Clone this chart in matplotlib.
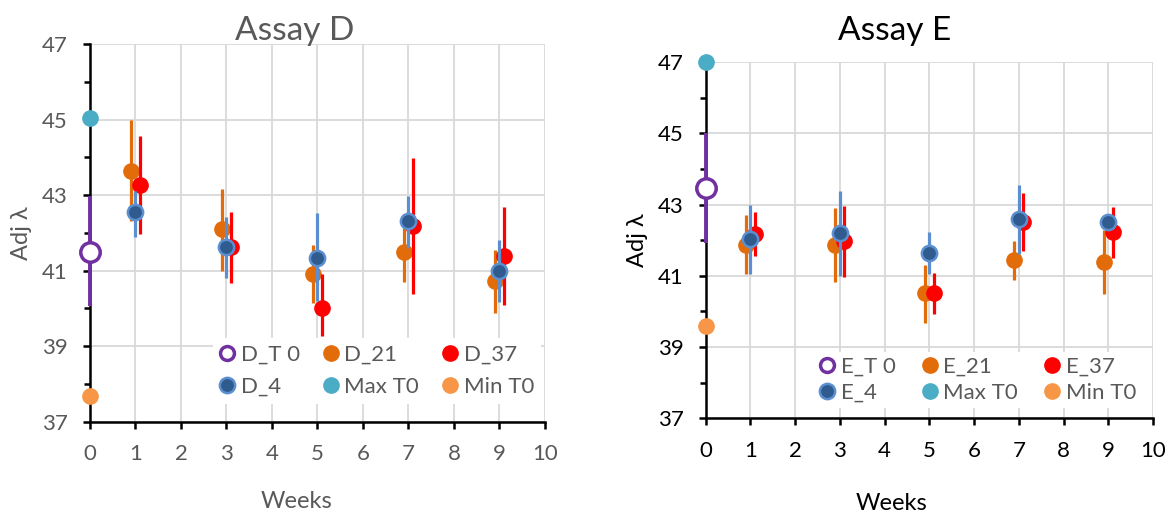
import matplotlib
matplotlib.use("Agg")
import matplotlib.pyplot as plt
from matplotlib.lines import Line2D
import numpy as np

plt.rcParams["font.family"] = ["Lato", "DejaVu Sans"]

# ---------------- data ----------------
weeks = [1, 3, 5, 7, 9]

# Assay D
d_t0, d_t0_lo, d_t0_hi = 41.50, 40.05, 42.97
d_max_t0 = 45.05
d_min_t0 = 37.68
d21    = [43.65, 42.09, 40.92, 41.49, 40.72]
d21_lo = [42.31, 40.99, 40.15, 40.69, 39.87]
d21_hi = [44.98, 43.17, 41.69, 42.44, 41.54]
d4     = [42.55, 41.63, 41.34, 42.31, 40.99]
d4_lo  = [41.90, 40.81, 40.19, 41.60, 40.17]
d4_hi  = [43.10, 42.42, 42.53, 42.97, 41.80]
d37    = [43.27, 41.62, 40.02, 42.18, 41.38]
d37_lo = [41.96, 40.68, 39.27, 40.37, 40.08]
d37_hi = [44.56, 42.56, 40.92, 43.98, 42.69]

# Assay E
e_t0, e_t0_lo, e_t0_hi = 43.47, 41.92, 45.02
e_max_t0 = 47.00
e_min_t0 = 39.59
e21    = [41.88, 41.88, 40.51, 41.45, 41.40]
e21_lo = [41.04, 40.83, 39.67, 40.89, 40.50]
e21_hi = [42.70, 42.91, 41.32, 41.98, 42.28]
e4     = [42.04, 42.21, 41.64, 42.59, 42.52]
e4_lo  = [41.04, 41.01, 41.04, 41.62, 42.28]
e4_hi  = [42.98, 43.39, 42.23, 43.55, 42.75]
e37    = [42.19, 41.98, 40.51, 42.52, 42.23]
e37_lo = [41.55, 40.97, 39.92, 41.70, 41.50]
e37_hi = [42.80, 42.96, 41.08, 43.33, 42.94]

# ---------------- style ----------------
C_T0   = "#7030A0"
C_21   = "#E36C0A"
C_37   = "#FF0000"
C_4F   = "#2F5B8E"   # D_4 / E_4 face
C_4E   = "#5B8FD0"   # D_4 / E_4 edge + bar
C_MAX  = "#4BACC6"
C_MIN  = "#F79646"
GRID   = "#D9D9D9"
GREY   = "#595959"

MS  = 11
ELW = 2.3
OFF = 0.1


def errbar(ax, x, y, lo, hi, color, z, lw=ELW, **mk):
    y = np.asarray(y)
    yerr = [y - np.asarray(lo), np.asarray(hi) - y]
    ax.errorbar(x, y, yerr=yerr, fmt="o", ecolor=color, elinewidth=lw,
                capsize=0, zorder=z, clip_on=False, **mk)


def panel(ax, tag, t0, t0_lo, t0_hi, mx, mn, s21, s21lo, s21hi,
          s4, s4lo, s4hi, s37, s37lo, s37hi, txt_col):
    w = np.array(weeks, dtype=float)
    errbar(ax, [0], [t0], [t0_lo], [t0_hi], C_T0, 3, lw=2.8,
           ms=14, mfc="white", mec=C_T0, mew=2.5)
    errbar(ax, w - OFF, s21, s21lo, s21hi, C_21, 4,
           ms=MS, mfc=C_21, mec=C_21)
    errbar(ax, w + OFF, s37, s37lo, s37hi, C_37, 5,
           ms=MS, mfc=C_37, mec=C_37)
    errbar(ax, w, s4, s4lo, s4hi, C_4E, 6,
           ms=MS, mfc=C_4F, mec=C_4E, mew=1.8)
    ax.plot([0], [mx], "o", ms=MS, color=C_MAX, zorder=7, clip_on=False)
    ax.plot([0], [mn], "o", ms=MS, color=C_MIN, zorder=7, clip_on=False)

    ax.set_xlim(0, 10)
    ax.set_ylim(37, 47)
    ax.set_xticks(range(0, 11))
    ax.set_yticks(range(37, 48, 2))
    ax.set_yticks(range(38, 47, 2), minor=True)
    ax.grid(True, which="major", color=GRID, linewidth=1.3)
    ax.set_axisbelow(True)
    for s in ["top", "right"]:
        ax.spines[s].set_visible(False)
    for s in ["left", "bottom"]:
        ax.spines[s].set_linewidth(1.8)
        ax.spines[s].set_color("black")
    ax.tick_params(which="major", direction="out", length=5, width=1.8,
                   labelsize=16, labelcolor=txt_col, pad=11)
    ax.tick_params(which="minor", direction="out", length=4, width=1.8)

    handles = [
        Line2D([], [], ls="none", marker="o", ms=10, mfc="white", mec=C_T0, mew=2.5),
        Line2D([], [], ls="none", marker="o", ms=MS, mfc=C_4F, mec=C_4E, mew=1.8),
        Line2D([], [], ls="none", marker="o", ms=MS, color=C_21),
        Line2D([], [], ls="none", marker="o", ms=MS, color=C_MAX),
        Line2D([], [], ls="none", marker="o", ms=MS, color=C_37),
        Line2D([], [], ls="none", marker="o", ms=MS, color=C_MIN),
    ]
    labels = [f"{tag}_T 0", f"{tag}_4", f"{tag}_21", "Max T0", f"{tag}_37", "Min T0"]
    return handles, labels


fig = plt.figure(figsize=(11.67, 5.14), dpi=100)
axD = fig.add_axes([0.0771, 0.1796, 0.3899, 0.7348])
axE = fig.add_axes([0.6047, 0.1862, 0.3835, 0.6926])

hD, lD = panel(axD, "D", d_t0, d_t0_lo, d_t0_hi, d_max_t0, d_min_t0,
               d21, d21_lo, d21_hi, d4, d4_lo, d4_hi, d37, d37_lo, d37_hi, GREY)
hE, lE = panel(axE, "E", e_t0, e_t0_lo, e_t0_hi, e_max_t0, e_min_t0,
               e21, e21_lo, e21_hi, e4, e4_lo, e4_hi, e37, e37_lo, e37_hi, "black")

legD = axD.legend(hD, lD, ncol=3, loc="upper left", bbox_to_anchor=(213 / 1167, 1 - 338 / 514),
                  bbox_transform=fig.transFigure, frameon=True, fontsize=16,
                  handlelength=0.7, handletextpad=0.25, columnspacing=1.05,
                  labelspacing=0.55, borderpad=0.3, borderaxespad=0)
legE = axE.legend(hE, lE, ncol=3, loc="upper left", bbox_to_anchor=(815 / 1167, 1 - 352 / 514),
                  bbox_transform=fig.transFigure, frameon=True, fontsize=16,
                  handlelength=0.7, handletextpad=0.25, columnspacing=1.2,
                  labelspacing=0.3, borderpad=0.2, borderaxespad=0)
for leg in (legD, legE):
    leg.get_frame().set_facecolor("white")
    leg.get_frame().set_edgecolor("none")
    leg.get_frame().set_alpha(1)
    leg.get_frame().set_boxstyle("square", pad=0)
    leg.set_zorder(10)
    for t in leg.get_texts():
        t.set_color(GREY)

# titles and axis labels (centred on the chart areas, as in the original)
fig.text(295 / 1167, 1 - 40 / 514, "Assay D", fontsize=24, color=GREY,
         ha="center", va="baseline")
fig.text(895 / 1167, 1 - 40 / 514, "Assay E", fontsize=24, color="black",
         ha="center", va="baseline")
fig.text(297 / 1167, 1 - 502 / 514, "Weeks", fontsize=17, color=GREY,
         ha="center", va="center")
fig.text(892 / 1167, 1 - 503 / 514, "Weeks", fontsize=17, color="black",
         ha="center", va="center")
fig.text(21 / 1167, 1 - 233 / 514, "Adj λ", fontsize=17, color=GREY,
         ha="center", va="center", rotation=90)
fig.text(637 / 1167, 1 - 240 / 514, "Adj λ", fontsize=17, color="black",
         ha="center", va="center", rotation=90)

fig.savefig("out.png", dpi=100)
